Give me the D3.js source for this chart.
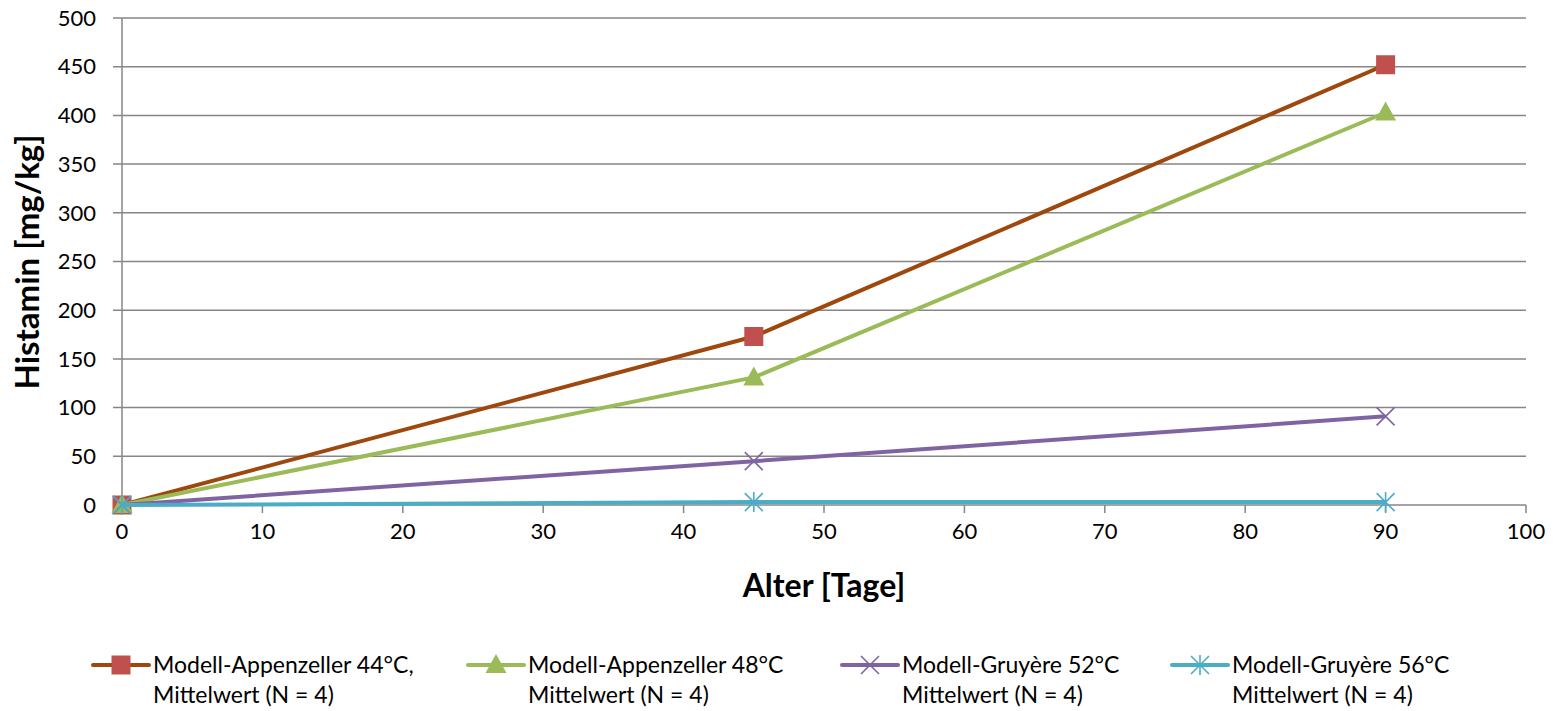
<!DOCTYPE html>
<html><head><meta charset="utf-8">
<script src="https://cdn.jsdelivr.net/npm/d3@7"></script>
<style>body{margin:0;background:#fff;} text{font-family:Lato, "Open Sans", sans-serif;}</style>
</head><body>
<svg id="c" width="1563" height="711"></svg>
<script>
const days = [0, 45, 90];
const seriesNames = [
  ["Modell-Appenzeller 44°C,", "Mittelwert (N = 4)"],
  ["Modell-Appenzeller 48°C", "Mittelwert (N = 4)"],
  ["Modell-Gruyère 52°C", "Mittelwert (N = 4)"],
  ["Modell-Gruyère 56°C", "Mittelwert (N = 4)"]
];
const app44 = [0, 173, 452];
const app48 = [0, 131, 403];
const gru52 = [0, 45, 91];
const gru56 = [0, 3, 3];
const xTicks = [0,10,20,30,40,50,60,70,80,90,100];
const yTicks = [0,50,100,150,200,250,300,350,400,450,500];
const lineColors = ["#9E480E", "#9BBB59", "#8064A2", "#4BACC6"];
const markerColors = ["#C0504D", "#9BBB59", "#8064A2", "#4BACC6"];
const markerTypes = ["square", "triangle", "x", "asterisk"];
const allSeries = [app44, app48, gru52, gru56];

const svg = d3.select("#c");
const L = 122, R = 1526, T = 18, B = 505;
const x = d3.scaleLinear().domain([0,100]).range([L,R]);
const y = d3.scaleLinear().domain([0,500]).range([B,T]);

svg.append("g").selectAll("line").data(yTicks).join("line")
  .attr("x1", L-9).attr("x2", R).attr("y1", d=>y(d)).attr("y2", d=>y(d))
  .attr("stroke", "#868686").attr("stroke-width", 1.5);
svg.append("line").attr("x1",L).attr("x2",L).attr("y1",T).attr("y2",B).attr("stroke","#868686").attr("stroke-width",1.5);
svg.append("g").selectAll("line").data(xTicks).join("line")
  .attr("x1", d=>x(d)).attr("x2", d=>x(d)).attr("y1", B).attr("y2", B+8)
  .attr("stroke", "#868686").attr("stroke-width", 1.5);

svg.append("g").selectAll("text").data(yTicks).join("text")
  .attr("x", 96).attr("y", d=>y(d)).attr("dy","0.35em").attr("text-anchor","end")
  .attr("font-size", 22).attr("fill","#000").text(d=>d);
svg.append("g").selectAll("text").data(xTicks).join("text")
  .attr("x", d=>x(d)).attr("y", 531).attr("dy","0.35em").attr("text-anchor","middle")
  .attr("font-size", 22).attr("fill","#000").text(d=>d);

svg.append("text").attr("x", 824).attr("y", 586).attr("dy","0.35em").attr("text-anchor","middle")
  .attr("font-size", 32).attr("font-weight","bold").text("Alter [Tage]");
svg.append("text").attr("transform", `translate(27,262) rotate(-90)`).attr("dy","0.35em")
  .attr("text-anchor","middle").attr("font-size", 33).attr("font-weight","bold").text("Histamin [mg/kg]");

function drawMarker(g, type, cx, cy, color) {
  if (type === "square") {
    g.append("rect").attr("x", cx-9.5).attr("y", cy-9.5).attr("width",19).attr("height",19).attr("fill", color);
  } else if (type === "triangle") {
    g.append("path").attr("d", `M${cx},${cy-11}L${cx+10.5},${cy+8}L${cx-10.5},${cy+8}Z`).attr("fill", color);
  } else if (type === "x") {
    const s = 9;
    g.append("path").attr("d", `M${cx-s},${cy-s}L${cx+s},${cy+s}M${cx-s},${cy+s}L${cx+s},${cy-s}`)
      .attr("stroke", color).attr("stroke-width", 1.6).attr("fill","none");
  } else {
    const s = 9;
    g.append("path").attr("d", `M${cx-s},${cy-s}L${cx+s},${cy+s}M${cx-s},${cy+s}L${cx+s},${cy-s}M${cx},${cy-s-1}L${cx},${cy+s+1}`)
      .attr("stroke", color).attr("stroke-width", 1.6).attr("fill","none");
  }
}

const line = d3.line().x((d,i)=>x(days[i])).y(d=>y(d));
allSeries.forEach((s, k) => {
  const g = svg.append("g");
  g.append("path").datum(s).attr("d", line).attr("fill","none")
    .attr("stroke", lineColors[k]).attr("stroke-width", 4).attr("stroke-linejoin","round");
  s.forEach((v,i)=> drawMarker(g, markerTypes[k], x(days[i]), y(v), markerColors[k]));
});

const legX = [93, 468, 842, 1172];
seriesNames.forEach((nm, k) => {
  const g = svg.append("g");
  const lx = legX[k], ly = 665;
  g.append("line").attr("x1", lx).attr("x2", lx+56).attr("y1", ly).attr("y2", ly)
    .attr("stroke", lineColors[k]).attr("stroke-width", 4).attr("stroke-linecap","round");
  drawMarker(g, markerTypes[k], lx+28, ly, markerColors[k]);
  g.append("text").attr("x", lx+60).attr("y", ly).attr("dy","0.35em").attr("font-size", 23).text(nm[0]);
  g.append("text").attr("x", lx+60).attr("y", ly+30).attr("dy","0.35em").attr("font-size", 23).text(nm[1]);
});
</script>
</body></html>
